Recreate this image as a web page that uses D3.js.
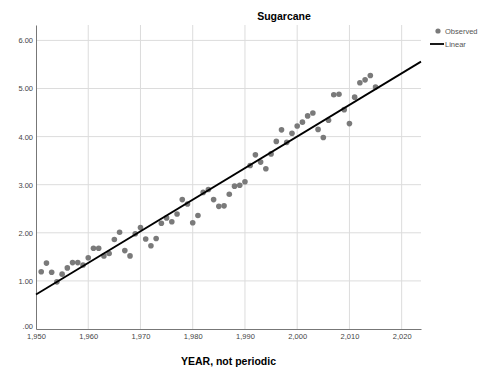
<!DOCTYPE html>
<html>
<head>
<meta charset="utf-8">
<script src="https://cdn.jsdelivr.net/npm/d3@7"></script>
<style>
  body { margin: 0; background: #fff; }
  svg { display: block; font-family: "Liberation Sans", Arial, sans-serif; }
  .grid line { stroke: #dcdcdc; stroke-width: 1; }
  .tick text { fill: #444; }
</style>
</head>
<body>
<svg id="chart"></svg>
<script>
"use strict";

var width = 485,
    height = 370;

// observed values, one per year
var years = d3.range(1951, 2016);
var observed = [
    1.19, 1.37, 1.18, 0.98, 1.14, 1.27, 1.38, 1.38, 1.33, 1.48,
    1.68, 1.68, 1.52, 1.57, 1.86, 2.01, 1.63, 1.52, 1.98, 2.11,
    1.87, 1.73, 1.88, 2.20, 2.31, 2.23, 2.39, 2.69, 2.60, 2.21,
    2.36, 2.84, 2.90, 2.69, 2.55, 2.56, 2.80, 2.97, 2.99, 3.06,
    3.40, 3.62, 3.47, 3.33, 3.64, 3.90, 4.14, 3.88, 4.07, 4.22,
    4.30, 4.43, 4.49, 4.15, 3.98, 4.34, 4.87, 4.88, 4.56, 4.27,
    4.82, 5.12, 5.18, 5.27, 5.03
];
var xTicks = [1950, 1960, 1970, 1980, 1990, 2000, 2010, 2020];
var yTicks = [0, 1, 2, 3, 4, 5, 6];
var legendLabels = ["Observed", "Linear"];

var margin = {top: 25, right: 64, bottom: 41, left: 36};

var x = d3.scaleLinear().domain([1950, 2023.7]).range([margin.left, width - margin.right]);
var y = d3.scaleLinear().domain([0, 6.32]).range([height - margin.bottom, margin.top]);

var svg = d3.select("#chart")
    .attr("width", width)
    .attr("height", height);

// least squares fit for the "Linear" line
var mx = d3.mean(years), my = d3.mean(observed);
var sxy = 0, sxx = 0;
years.forEach(function (yr, i) {
    sxy += (yr - mx) * (observed[i] - my);
    sxx += (yr - mx) * (yr - mx);
});
var slope = sxy / sxx,
    intercept = my - slope * mx;

// grid
var grid = svg.append("g").attr("class", "grid");
grid.selectAll(".v")
    .data(xTicks.slice(1))
    .enter().append("line")
    .attr("x1", function (d) { return x(d); })
    .attr("x2", function (d) { return x(d); })
    .attr("y1", y.range()[1])
    .attr("y2", y.range()[0]);
grid.selectAll(".h")
    .data(yTicks.slice(1))
    .enter().append("line")
    .attr("x1", x.range()[0])
    .attr("x2", x.range()[1])
    .attr("y1", function (d) { return y(d); })
    .attr("y2", function (d) { return y(d); });

// axes
var fmtYear = d3.format(",");
var fmtVal = function (d) { return d === 0 ? ".00" : d3.format(".2f")(d); };

svg.append("g")
    .attr("transform", "translate(0," + y.range()[0] + ")")
    .call(d3.axisBottom(x).tickValues(xTicks).tickFormat(fmtYear).tickSize(0).tickPadding(5))
    .attr("font-size", 7.5)
    .attr("font-family", null)
    .call(function (g) { g.select(".domain").attr("stroke", "#777"); });

svg.append("g")
    .attr("transform", "translate(" + x.range()[0] + ",0)")
    .call(d3.axisLeft(y).tickValues(yTicks).tickFormat(fmtVal).tickSize(0).tickPadding(3))
    .attr("font-size", 7.5)
    .attr("font-family", null)
    .call(function (g) {
        g.select(".domain").attr("stroke", "#777");
        // lift the zero label a little so it clears the first year label
        g.selectAll(".tick text").filter(function (d) { return d === 0; }).attr("dy", "-0.1em");
    });

// observed points
svg.append("g")
    .selectAll("circle")
    .data(years)
    .enter().append("circle")
    .attr("cx", function (d) { return x(d); })
    .attr("cy", function (d, i) { return y(observed[i]); })
    .attr("r", 2.8)
    .attr("fill", "#7a7a7a");

// fit line across the whole x range
var xd = x.domain();
svg.append("line")
    .attr("x1", x(xd[0]))
    .attr("y1", y(intercept + slope * xd[0]))
    .attr("x2", x(xd[1]))
    .attr("y2", y(intercept + slope * xd[1]))
    .attr("stroke", "#000")
    .attr("stroke-width", 1.8);

// title and axis label
svg.append("text")
    .attr("x", 284)
    .attr("y", 20)
    .attr("text-anchor", "middle")
    .attr("font-size", 10.5)
    .attr("font-weight", "bold")
    .text("Sugarcane");

svg.append("text")
    .attr("x", (x.range()[0] + x.range()[1]) / 2)
    .attr("y", 365)
    .attr("text-anchor", "middle")
    .attr("font-size", 10.5)
    .attr("font-weight", "bold")
    .text("YEAR, not periodic");

// legend
var legend = svg.append("g").attr("transform", "translate(430,31)");
legend.append("circle")
    .attr("cx", 8)
    .attr("cy", 0)
    .attr("r", 2.6)
    .attr("fill", "#7a7a7a");
legend.append("line")
    .attr("x1", 0)
    .attr("x2", 14)
    .attr("y1", 13)
    .attr("y2", 13)
    .attr("stroke", "#000")
    .attr("stroke-width", 1.8);
legend.selectAll("text")
    .data(legendLabels)
    .enter().append("text")
    .attr("x", 15)
    .attr("y", function (d, i) { return i * 13 + 3; })
    .attr("font-size", 7.5)
    .attr("fill", "#555")
    .text(function (d) { return d; });
</script>
</body>
</html>
